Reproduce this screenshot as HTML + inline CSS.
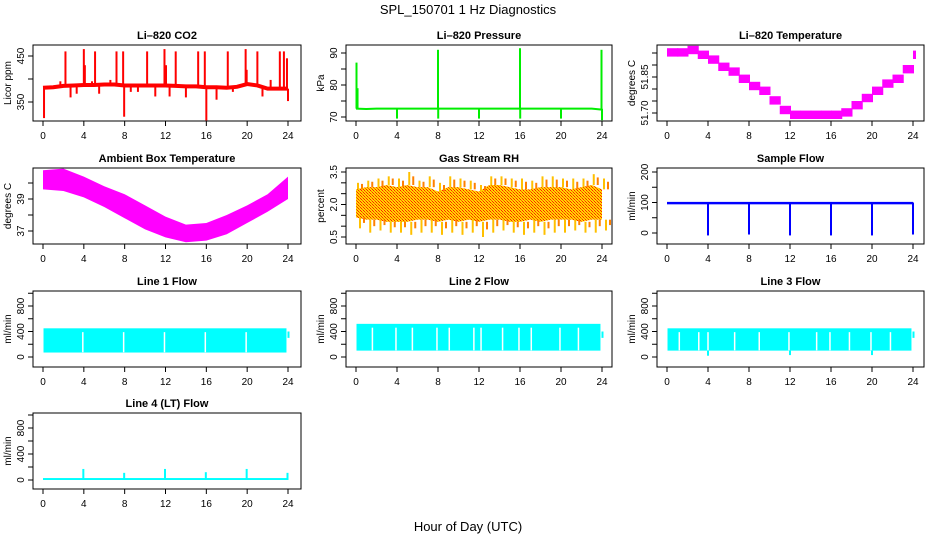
<!DOCTYPE html>
<html><head><meta charset="utf-8"><style>
html,body{margin:0;padding:0;background:#fff;}
svg{display:block;font-family:"Liberation Sans",sans-serif;}
</style></head><body>
<svg id="c" width="936" height="540" viewBox="0 0 936 540">
<defs>
<pattern id="rhpat" width="3" height="3" patternUnits="userSpaceOnUse">
<rect width="3" height="3" fill="#ffd800"/><rect width="1" height="1" fill="#ff2000"/><rect x="1" y="1" width="1" height="1" fill="#ff2000"/><rect x="2" y="2" width="1" height="1" fill="#ff6000"/>
</pattern>
</defs>
<text x="468" y="14" text-anchor="middle" font-size="13">SPL_150701  1 Hz Diagnostics</text>
<text x="468" y="531" text-anchor="middle" font-size="13">Hour of Day (UTC)</text>
</svg>
<script>
// ---- data ----
const xTicks = [0,4,8,12,16,20,24];
const co2Hours = [0,1,2,3,4,5,6,7,8,9,10,11,12,13,14,15,16,17,18,19,20,21,22,23,24];
const co2Base = [381,382,385,386,387,387,388,388,386,386,386,386,386,385,384,384,382,382,381,383,389,386,379,379,379];
const co2SpikeT = [0.1,2.2,4.0,4.1,5.1,7.2,7.85,7.95,10.2,11.9,12.05,13.0,15.2,15.85,16.0,18.1,19.85,19.95,21.0,23.2,23.6,23.9,1.7,2.7,3.3,4.8,5.5,6.6,8.6,9.3,11.0,12.4,14.0,17.0,18.6,21.5,22.3,24.0];
const co2SpikeV = [315,460,465,430,460,460,460,318,460,465,430,460,460,460,310,460,465,420,460,460,460,445,395,360,368,395,368,398,372,372,362,362,360,355,372,362,398,352];
const presBase = [72.6,72.5,72.6,72.6,72.6,72.6,72.6,72.6,72.6,72.6,72.6,72.6,72.6,72.6,72.6,72.6,72.6,72.6,72.6,72.6,72.6,72.6,72.6,72.6,72.3];
const presSpikeT = [0.05,0.15,4,8,8.02,12,16,16.02,20,23.95,24];
const presSpikeV = [87,79,69.5,91,69.5,69.5,91.5,69.5,69.5,91,69];
const liTemp = [51.95,51.95,51.96,51.94,51.92,51.89,51.87,51.84,51.81,51.79,51.75,51.71,51.69,51.69,51.69,51.69,51.69,51.70,51.73,51.76,51.79,51.82,51.84,51.88,51.94];
const ambT = [0,2,4,6,8,10,12,14,16,18,20,22,24];
const ambHi = [40.8,40.9,40.4,39.8,39.3,38.6,37.9,37.4,37.5,38.0,38.6,39.3,40.4];
const ambLo = [39.6,39.5,39.1,38.5,37.8,37.1,36.6,36.3,36.4,36.8,37.5,38.2,39.0];
const rhHi = [3.0,3.1,3.2,3.3,3.2,3.5,3.1,3.3,3.0,3.3,3.2,3.1,2.9,3.3,3.3,3.2,3.2,3.1,3.3,3.3,3.2,3.2,3.2,3.4,3.2];
const rhLo = [0.9,0.7,0.8,0.7,0.7,0.6,0.7,0.7,0.6,0.7,0.6,0.7,0.5,0.7,0.8,0.7,0.6,0.7,0.6,0.7,0.7,0.8,0.7,0.7,0.8];
const rhCoreHi = [2.7,2.8,2.8,2.9,2.8,2.9,2.8,2.8,2.6,2.8,2.8,2.7,2.6,2.9,2.9,2.8,2.7,2.7,2.8,2.8,2.8,2.7,2.8,2.9,2.7];
const rhCoreLo = [1.4,1.3,1.3,1.2,1.2,1.2,1.3,1.3,1.2,1.3,1.2,1.3,1.2,1.3,1.3,1.2,1.2,1.3,1.2,1.3,1.3,1.3,1.2,1.3,1.3];
const sfBand = [94,102];
const sfDipT = [4,8,12,16,20,24];
const sfDipV = [-8,-5,-8,-8,-8,-5];
const flowLo = [70,100,100];
const flowHi = [450,520,450];
const l1Gaps = [3.9,7.9,11.9,15.9,19.9];
const l2Gaps = [1.6,3.9,5.5,7.9,9.1,11.5,12.2,14.3,15.9,17.1,19.9,21.7];
const l3Gaps = [1.2,3.1,4.0,6.6,9.0,11.9,14.6,15.9,17.8,19.9,21.8];
const l3DipT = [4,12,20];
const l3DipV = [20,30,30];
const l4Base = [0,30];
const l4SpikeT = [4,8,12,16,20,24];
const l4SpikeV = [170,110,170,120,170,110];

// ---- layout ----
const NS='http://www.w3.org/2000/svg';
const svg=document.getElementById('c');
const cols=[{l:33,r:301,x0:43,x24:288},{l:346,r:612,x0:356,x24:602},{l:657,r:924,x0:667,x24:913}];
const rows=[45,168,291,413];
const H=76;
function el(tag,attrs,name,parent){
  const e=document.createElementNS(NS,tag);
  for(const k in attrs) e.setAttribute(k,attrs[k]);
  
  
  (parent||svg).appendChild(e);return e;
}
function panel(o){
  const c=cols[o.col], top=rows[o.row], bot=top+H;
  const g=el('g',{},o.name+'-panel');
  const sx=t=>c.x0+(c.x24-c.x0)*t/24;
  const sy=v=>o.p1+(o.p2-o.p1)*(v-o.v1)/(o.v2-o.v1);
  const clip=el('clipPath',{id:'cl'+o.name},'clip',g);
  el('rect',{x:c.l,y:top,width:c.r-c.l,height:H},'clip-rect',clip);
  const d=el('g',{'clip-path':'url(#cl'+o.name+')'},o.name+'-series',g);
  o.draw(d,sx,sy);
  el('rect',{x:c.l,y:top,width:c.r-c.l,height:H,fill:'none',stroke:'#000','stroke-width':1},'plot-frame',g);
  const t=el('text',{x:(c.l+c.r)/2,y:top-6,'text-anchor':'middle','font-size':11,'font-weight':'bold'},'panel-title',g);t.textContent=o.title;
  xTicks.forEach(v=>{
    el('line',{x1:sx(v),x2:sx(v),y1:bot,y2:bot+5,stroke:'#000'},'x-tick',g);
    const tt=el('text',{x:sx(v),y:bot+18,'text-anchor':'middle','font-size':10},'x-tick-label',g);tt.textContent=v;
  });
  const yt=o.ticks;
  yt.forEach(v=>el('line',{x1:c.l-5,x2:c.l,y1:sy(v),y2:sy(v),stroke:'#000'},'y-tick',g));
  o.labels.forEach(v=>{
    const y=sy(v), x=c.l-9;
    const tt=el('text',{x:x,y:y,'text-anchor':'middle','font-size':10,transform:`rotate(-90 ${x} ${y})`},'y-tick-label',g);tt.textContent=v;
  });
  const ax=c.l-22, ay=(top+bot)/2;
  const yl=el('text',{x:ax,y:ay,'text-anchor':'middle','font-size':10,transform:`rotate(-90 ${ax} ${ay})`},'y-axis-title',g);yl.textContent=o.ylab;
}
function vline(g,x,y1,y2,col,w,name){el('line',{x1:x,x2:x,y1:y1,y2:y2,stroke:col,'stroke-width':w},name,g);}

panel({name:'co2',col:0,row:0,title:'Li\u2013820 CO2',ylab:'Licor ppm',v1:450,p1:56,v2:350,p2:102,ticks:[350,400,450],labels:['350','450'],
 draw:(g,sx,sy)=>{
  let p=co2Hours.map((h,i)=>sx(h)+','+sy(co2Base[i])).join(' ');
  el('polyline',{points:p,fill:'none',stroke:'#ff0000','stroke-width':4},'co2-line',g);
  co2SpikeT.forEach((t,i)=>{const b=co2Base[Math.min(24,Math.round(t))];vline(g,sx(t),sy(b),sy(co2SpikeV[i]),'#ff0000',2,'co2-spike');});
 }});
panel({name:'pressure',col:1,row:0,title:'Li\u2013820 Pressure',ylab:'kPa',v1:90,p1:53,v2:70,p2:117,ticks:[70,75,80,85,90],labels:['70','80','90'],
 draw:(g,sx,sy)=>{
  let p=presBase.map((v,i)=>sx(i)+','+sy(v)).join(' ');
  el('polyline',{points:p,fill:'none',stroke:'#00ee00','stroke-width':2},'pressure-line',g);
  presSpikeT.forEach((t,i)=>vline(g,sx(t),sy(72.6),sy(presSpikeV[i]),'#00ee00',2,'pressure-spike'));
 }});
panel({name:'litemp',col:2,row:0,title:'Li\u2013820 Temperature',ylab:'degrees C',v1:51.70,p1:113,v2:51.85,p2:77,ticks:[51.70,51.75,51.80,51.85,51.90,51.95],labels:['51.70','51.85'],
 draw:(g,sx,sy)=>{
  liTemp.forEach((v,i)=>{const t2=Math.min(24,i+1);el('rect',{x:sx(i),y:sy(v+0.02),width:Math.max(3,sx(t2)-sx(i)+1),height:sy(v-0.015)-sy(v+0.02),fill:'#ff00ff'},'litemp-step',g);});
 }});
panel({name:'ambient',col:0,row:1,title:'Ambient Box Temperature',ylab:'degrees C',v1:39,p1:199,v2:37,p2:231,ticks:[37,38,39,40],labels:['37','39'],
 draw:(g,sx,sy)=>{
  const pts=ambT.map((t,i)=>sx(t)+','+sy(ambHi[i])).concat(ambT.slice().reverse().map((t,j)=>sx(t)+','+sy(ambLo[ambT.length-1-j])));
  el('polygon',{points:pts.join(' '),fill:'#ff00ff'},'ambient-band',g);
 }});
panel({name:'rh',col:1,row:1,title:'Gas Stream RH',ylab:'percent',v1:3.5,p1:172,v2:0.5,p2:237,ticks:[0.5,1.0,1.5,2.0,2.5,3.0,3.5],labels:['0.5','2.0','3.5'],
 draw:(g,sx,sy)=>{
  const pts=rhCoreHi.map((v,i)=>sx(i)+','+sy(v)).concat(rhCoreLo.map((v,i)=>sx(i)+','+sy(v)).reverse());
  el('polygon',{points:pts.join(' '),fill:'url(#rhpat)'},'rh-band',g);
  rhHi.forEach((v,i)=>{
    vline(g,sx(i)+2,sy(rhCoreHi[i]),sy(v),'#ffc000',2,'rh-spike-up');
    vline(g,sx(i)+6,sy(rhCoreHi[i]),sy((v+rhCoreHi[i])/2+0.1),'#ff8000',2,'rh-spike-up');
    vline(g,sx(i)+4,sy(rhCoreLo[i]),sy(rhLo[i]),'#ffc000',2,'rh-spike-down');
    vline(g,sx(i)+8,sy(rhCoreLo[i]),sy((rhLo[i]+rhCoreLo[i])/2),'#ff8000',2,'rh-spike-down');
  });
 }});
panel({name:'sampleflow',col:2,row:1,title:'Sample Flow',ylab:'ml/min',v1:200,p1:172,v2:0,p2:233,ticks:[0,50,100,150,200],labels:['0','100','200'],
 draw:(g,sx,sy)=>{
  el('rect',{x:sx(0),y:sy(sfBand[1]),width:sx(24)-sx(0),height:sy(sfBand[0])-sy(sfBand[1]),fill:'#0000ff'},'sampleflow-band',g);
  sfDipT.forEach((t,i)=>vline(g,sx(t),sy(100),sy(sfDipV[i]),'#0000ff',2,'sampleflow-dip'));
 }});
function flowPanel(idx,name,title,gaps,dipT,dipV){
  panel({name:name,col:idx,row:2,title:title,ylab:'ml/min',v1:0,p1:357,v2:800,p2:306,ticks:[0,200,400,600,800,1000],labels:['0','400','800'],
   draw:(g,sx,sy)=>{
    el('rect',{x:sx(0.05),y:sy(flowHi[idx]),width:sx(23.85)-sx(0.05),height:sy(flowLo[idx])-sy(flowHi[idx]),fill:'#00ffff'},name+'-band',g);
    el('rect',{x:sx(23.95),y:sy(400),width:2,height:sy(300)-sy(400),fill:'#00ffff'},name+'-end',g);
    gaps.forEach(t=>vline(g,sx(t),sy(flowHi[idx]-60),sy(flowLo[idx]+5),'#ffffff',1.5,name+'-gap'));
    dipT.forEach((t,i)=>vline(g,sx(t),sy(flowLo[idx]),sy(dipV[i]),'#00ffff',2,name+'-dip'));
   }});
}
flowPanel(0,'line1','Line 1 Flow',l1Gaps,[],[]);
flowPanel(1,'line2','Line 2 Flow',l2Gaps,[],[]);
flowPanel(2,'line3','Line 3 Flow',l3Gaps,l3DipT,l3DipV);
panel({name:'line4',col:0,row:3,title:'Line 4 (LT) Flow',ylab:'ml/min',v1:0,p1:480,v2:800,p2:428,ticks:[0,200,400,600,800,1000],labels:['0','400','800'],
 draw:(g,sx,sy)=>{
  el('rect',{x:sx(0),y:sy(l4Base[1]),width:sx(24)-sx(0),height:sy(l4Base[0])-sy(l4Base[1]),fill:'#00ffff'},'line4-band',g);
  l4SpikeT.forEach((t,i)=>vline(g,sx(t)-0.5,sy(0),sy(l4SpikeV[i]),'#00ffff',2,'line4-spike'));
 }});
</script>
</body></html>
